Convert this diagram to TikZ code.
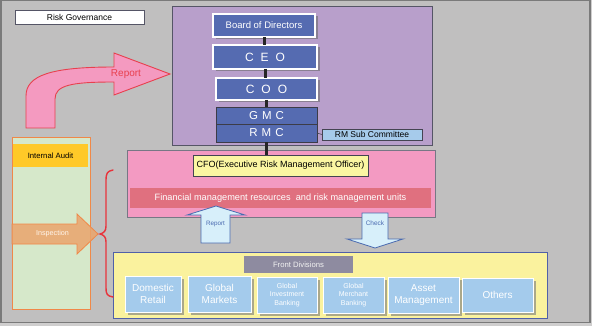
\documentclass[tikz,border=0pt]{standalone}
\usepackage{fontspec}
\setmainfont{Liberation Sans}
\definecolor{bg}{HTML}{C0BFBF}
\definecolor{bgout}{HTML}{CFCECE}
\definecolor{framec}{HTML}{7A7A7A}
\definecolor{purp}{HTML}{B89FCB}
\definecolor{bluebox}{HTML}{556BB1}
\definecolor{pinkc}{HTML}{F39AC2}
\definecolor{cfoy}{HTML}{FBF6A2}
\definecolor{finc}{HTML}{E0707F}
\definecolor{lblue}{HTML}{D7EFFA}
\definecolor{arrblue}{HTML}{4A6AB0}
\definecolor{fronty}{HTML}{FAF29E}
\definecolor{frontb}{HTML}{5060A8}
\definecolor{fdlc}{HTML}{8E8BA0}
\definecolor{divc}{HTML}{A4CBEC}
\definecolor{divsh}{HTML}{ABA88A}
\definecolor{bluesh}{HTML}{8A8092}
\definecolor{greenc}{HTML}{D6E8CA}
\definecolor{orangec}{HTML}{F08848}
\definecolor{iac}{HTML}{FFC928}
\definecolor{inspc}{HTML}{EBA46C}
\definecolor{bracec}{HTML}{E8333C}
\definecolor{bigarr}{HTML}{F49AC0}
\definecolor{bigarrb}{HTML}{E8404E}
\definecolor{rmsubc}{HTML}{A6CBEB}
\definecolor{darkb}{HTML}{555566}
\begin{document}
\begin{tikzpicture}[x=1pt,y=-1pt,
  box/.style={rectangle,inner sep=0pt,outer sep=0pt},
  bluen/.style={box,fill=bluebox,draw=white,line width=1.2pt,text=white},
  bluedk/.style={box,fill=bluebox,draw=darkb!70!black,line width=0.9pt,text=white},
  divn/.style={box,fill=divc,draw=white,line width=1pt,text=white,align=center},
  bshade/.style={fill=bluesh},
  dshade/.style={fill=divsh},
  conn/.style={line width=3pt,draw=black!85},
  uparr/.style={fill=lblue,draw=arrblue,line width=0.8pt,line join=miter}
]
\useasboundingbox (0,0) rectangle (592,326);
\fill[bgout] (0,0) rectangle (592,326);
\draw[framec,fill=bg,line width=1.5pt] (0.75,0.75) rectangle (590,322.5);

% Risk Governance
\node[box,fill=white,draw=darkb,line width=0.9pt,minimum width=129pt,minimum height=14pt,font=\fontsize{8.5}{10}\selectfont] (rg) at (79.5,17) {Risk Governance};

% purple box
\node[box,fill=purp,draw=darkb,line width=1pt,minimum width=260pt,minimum height=139pt] (purple) at (302,76.5) {};

% pink box
\node[box,fill=pinkc,draw=darkb!80,line width=1pt,minimum width=308pt,minimum height=66pt] (pink) at (281,184) {};
\node[box,fill=cfoy,draw=darkb!80!black,line width=0.8pt,minimum width=175pt,minimum height=21pt,font=\fontsize{9}{11}\selectfont] (cfo) at (280.5,165.5) {CFO(Executive Risk Management Officer)};
\node[box,fill=finc,minimum width=301pt,minimum height=20pt,text=white,font=\fontsize{9.2}{11}\selectfont] (fin) at (280.5,198) {Financial management resources\ \ and risk management units};

% governance chain (shadows first)
\fill[bshade] (215.5,16.5) rectangle (317.5,39.5);
\fill[bshade] (215.5,47.5) rectangle (319.5,71.5);
\fill[bshade] (218.5,80.5) rectangle (319.5,102.5);
\node[bluen,minimum width=102pt,minimum height=23pt,font=\fontsize{9.5}{11}\selectfont] (bod) at (264,25.5) {Board of Directors};
\node[bluen,minimum width=104pt,minimum height=24pt,font=\fontsize{12}{14}\selectfont] (ceo) at (265,57) {C\hspace{7pt}E\hspace{7pt}O};
\node[bluen,minimum width=101pt,minimum height=22pt,font=\fontsize{12}{14}\selectfont] (coo) at (266.5,89) {C\hspace{7pt}O\hspace{7pt}O};
\node[bluedk,minimum width=101pt,minimum height=17pt,font=\fontsize{11.5}{13}\selectfont] (gmc) at (266.5,115.5) {G\hspace{4pt}M\hspace{4pt}C};
\node[bluedk,minimum width=101pt,minimum height=18pt,font=\fontsize{11.5}{13}\selectfont] (rmc) at (266.5,133) {R\hspace{4pt}M\hspace{4pt}C};
\node[box,fill=rmsubc,draw=darkb!80!black,line width=0.8pt,minimum width=100pt,minimum height=11pt,font=\fontsize{8.5}{10}\selectfont] (rmsub) at (372,134.5) {RM Sub Committee};

\draw[conn] (bod.south) -- (bod.south |- ceo.north);
\draw[conn] (ceo.south) -- (ceo.south |- coo.north);
\draw[conn] (coo.south) -- (coo.south |- gmc.north);
\draw[conn] (rmc.south) -- (rmc.south |- cfo.north);
\draw[darkb!80!black,line width=0.6pt] (rmc.east) -- (rmsub.west);

% front divisions
\node[box,fill=fronty,draw=frontb,line width=0.9pt,minimum width=434pt,minimum height=66pt] (front) at (330,285) {};
\node[box,fill=fdlc,minimum width=109pt,minimum height=17pt,text=white!90!gray,font=\fontsize{7.7}{9}\selectfont] (fdl) at (298.5,264.5) {Front Divisions};
\fill[dshade] (128,279) rectangle (184,315);
\fill[dshade] (191,279) rectangle (254,315);
\fill[dshade] (260,280) rectangle (320,316);
\fill[dshade] (326,280) rectangle (387,316);
\fill[dshade] (391,280) rectangle (462,316);
\fill[dshade] (465,281) rectangle (536,315);
\node[divn,minimum width=56pt,minimum height=36pt,font=\fontsize{10}{12.5}\selectfont] (dr) at (153,294) {Domestic\\Retail};
\node[divn,minimum width=63pt,minimum height=36pt,font=\fontsize{10}{12.5}\selectfont] (gm) at (219.5,294) {Global\\Markets};
\node[divn,minimum width=60pt,minimum height=36pt,font=\fontsize{7}{8.5}\selectfont] (gib) at (287,295) {Global\\Investment\\Banking};
\node[divn,minimum width=61pt,minimum height=36pt,font=\fontsize{7}{8.5}\selectfont] (gmb) at (353.5,295) {Global\\Merchant\\Banking};
\node[divn,minimum width=71pt,minimum height=36pt,font=\fontsize{10}{12.5}\selectfont] (am) at (423.5,295) {Asset\\Management};
\node[divn,minimum width=71pt,minimum height=34pt,font=\fontsize{10}{12.5}\selectfont] (oth) at (497.5,295) {Others};

% report / check arrows
\draw[uparr] (201,243) -- (201,215) -- (187,215) -- (216,206) -- (245,215) -- (230,215) -- (230,243) -- cycle;
\node[text=arrblue,font=\fontsize{6.3}{7}\selectfont] (rep) at (215.5,224) {Report};
\draw[uparr] (362,213) -- (388,213) -- (388,239) -- (403,239) -- (375,248) -- (347,239) -- (362,239) -- cycle;
\node[text=arrblue,font=\fontsize{6.5}{7}\selectfont] (chk) at (375,223) {Check};

% internal audit column
\node[box,fill=greenc,draw=orangec,line width=0.9pt,minimum width=78pt,minimum height=172pt] (green) at (51,223) {};
\node[box,fill=iac,minimum width=75pt,minimum height=23pt,font=\fontsize{7.7}{9}\selectfont] (ia) at (50.5,155.5) {Internal Audit};
\draw[fill=inspc,fill opacity=0.85,draw=orangec,line width=0.8pt,line join=miter]
  (12,224) -- (77,224) -- (77,214) -- (98,234) -- (77,254) -- (77,244) -- (12,244) -- cycle;
\node[text=white!92!orange,font=\fontsize{7.2}{8}\selectfont] (insp) at (52.5,234) {Inspection};

% brace
\draw[bracec,line width=1.4pt,line cap=round]
  (113,170) .. controls (107,171) and (106,174) .. (106,180) -- (106,226)
  .. controls (106,231) and (104,233) .. (100,234)
  .. controls (104,235) and (106,237) .. (106,242) -- (106,288)
  .. controls (106,294) and (107,296) .. (113,297);

% big report arrow
\draw[fill=bigarr,draw=bigarrb,line width=0.9pt,line join=miter]
  (26,128) -- (26,96) .. controls (26,75) and (52,67) .. (114,67) -- (114,53) -- (170,74)
  -- (114,95) -- (114,82) .. controls (72,82) and (55,85) .. (55,99) -- (55,128) -- cycle;
\node[text=bigarrb,font=\fontsize{10}{12}\selectfont] (bigrep) at (126,74) {Report};
\end{tikzpicture}
\end{document}
